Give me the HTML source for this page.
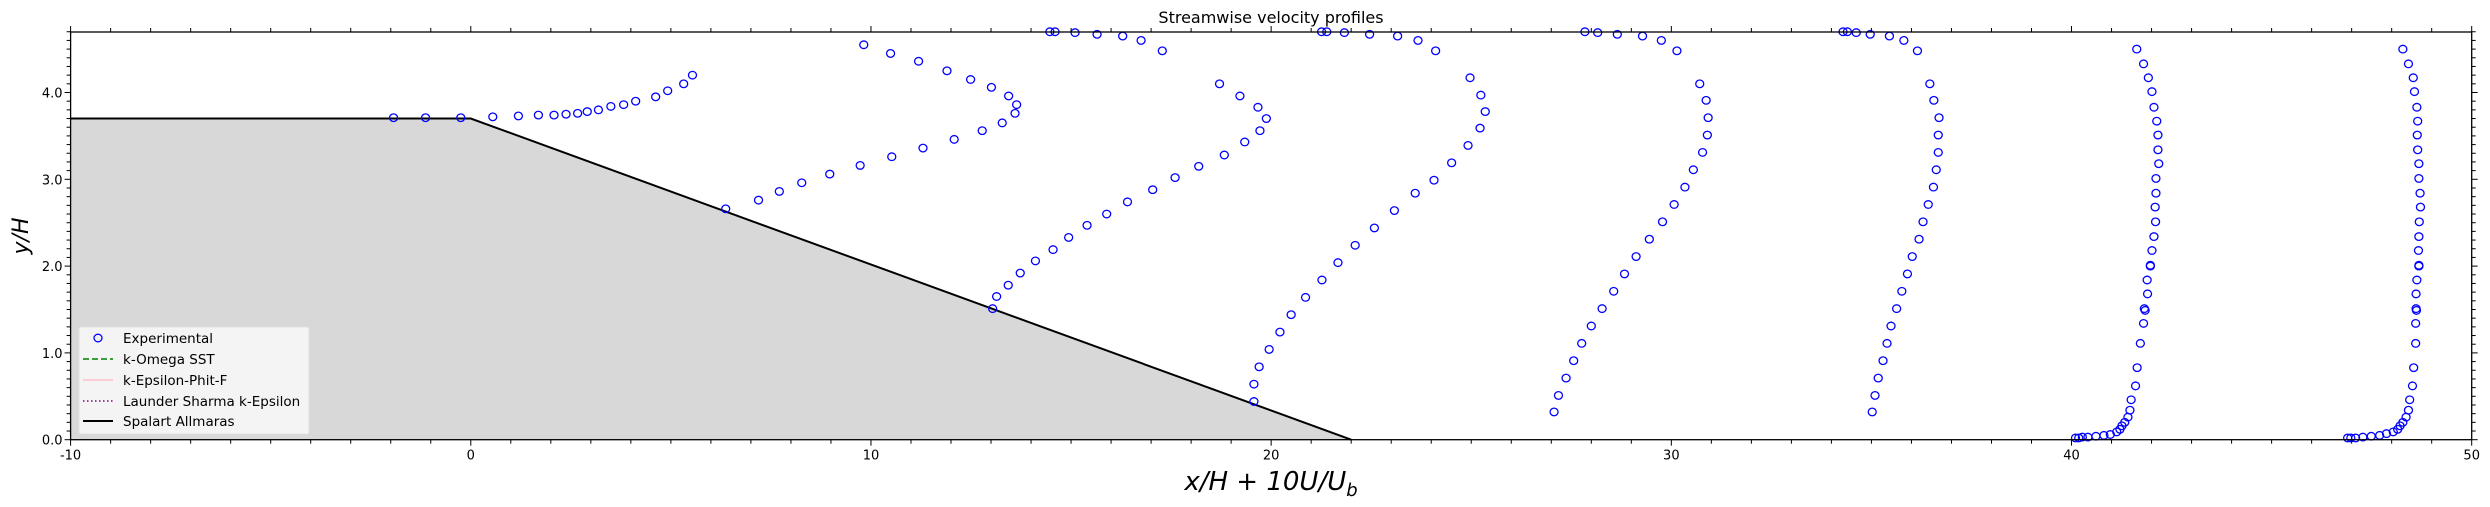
<!DOCTYPE html>
<html><head><meta charset="utf-8"><style>
html,body{margin:0;padding:0;background:#fff;}
svg{display:block;font-family:"DejaVu Sans","Liberation Sans",sans-serif;}
</style></head><body>
<svg id="chart" width="2490" height="507" xmlns="http://www.w3.org/2000/svg">
<text x="1271" y="23" text-anchor="middle" font-size="16">Streamwise velocity profiles</text>
<g id="plot"></g>
<text x="1271" y="490" text-anchor="middle" font-size="26" font-style="italic">x/H + 10U/U<tspan font-size="18" dy="6">b</tspan></text>
<text transform="translate(28,236) rotate(-90)" text-anchor="middle" font-size="22" font-style="italic">y/H</text>
</svg>
<script>
const xTicks = [-10,0,10,20,30,40,50];
const yTicks = [0,1,2,3,4];
const hillX = [-10,0,22];
const hillY = [3.7,3.7,0];
const expX = [
-1.93,-1.13,-0.25,0.55,1.19,1.69,2.08,2.38,2.67,2.91,3.19,3.50,3.82,4.12,4.62,4.92,5.32,5.54,
9.82,10.49,11.19,11.90,12.49,13.01,13.44,13.64,13.60,13.28,12.78,12.08,11.30,10.52,9.73,8.97,8.27,7.71,7.19,6.37,
14.47,14.60,15.10,15.65,16.29,16.75,17.28,
18.71,19.22,19.67,19.88,19.72,19.34,18.83,18.19,17.60,17.04,16.41,15.89,15.40,14.94,14.55,14.11,13.73,13.43,13.14,13.04,
21.26,21.39,21.83,22.46,23.16,23.67,24.11,
24.97,25.24,25.35,25.22,24.92,24.51,24.07,23.60,23.08,22.58,22.10,21.67,21.27,20.86,20.50,20.22,19.95,19.70,19.57,19.57,
27.84,28.16,28.65,29.28,29.75,30.14,
30.71,30.87,30.92,30.90,30.78,30.55,30.34,30.07,29.78,29.45,29.12,28.83,28.56,28.27,28.00,27.76,27.56,27.37,27.18,27.07,
34.29,34.40,34.62,34.97,35.45,35.81,36.15,
36.46,36.56,36.69,36.67,36.67,36.62,36.55,36.42,36.29,36.19,36.02,35.90,35.76,35.63,35.49,35.39,35.29,35.17,35.09,35.02,
41.63,41.80,41.92,42.01,42.06,42.13,42.16,42.16,42.18,42.11,42.11,42.09,42.10,42.06,42.01,41.97,41.97,41.89,41.90,41.82,41.84,41.80,41.72,41.64,41.60,41.49,41.46,41.41,41.33,41.26,41.21,41.13,40.97,40.81,40.61,40.41,40.27,40.18,40.10,
48.28,48.42,48.54,48.57,48.63,48.65,48.64,48.65,48.68,48.68,48.71,48.72,48.69,48.68,48.67,48.68,48.68,48.63,48.61,48.61,48.62,48.60,48.60,48.55,48.52,48.45,48.42,48.36,48.28,48.21,48.15,48.04,47.87,47.70,47.49,47.28,47.10,46.98,46.90
];
const expY = [
3.71,3.71,3.71,3.72,3.73,3.74,3.74,3.75,3.76,3.78,3.80,3.84,3.86,3.90,3.95,4.02,4.10,4.20,
4.55,4.45,4.36,4.25,4.15,4.06,3.96,3.86,3.76,3.65,3.56,3.46,3.36,3.26,3.16,3.06,2.96,2.86,2.76,2.66,
4.70,4.70,4.69,4.67,4.65,4.60,4.48,
4.10,3.96,3.83,3.70,3.56,3.43,3.28,3.15,3.02,2.88,2.74,2.60,2.47,2.33,2.19,2.06,1.92,1.78,1.65,1.51,
4.70,4.70,4.69,4.67,4.65,4.60,4.48,
4.17,3.97,3.78,3.59,3.39,3.19,2.99,2.84,2.64,2.44,2.24,2.04,1.84,1.64,1.44,1.24,1.04,0.84,0.64,0.44,
4.70,4.69,4.67,4.65,4.60,4.48,
4.10,3.91,3.71,3.51,3.31,3.11,2.91,2.71,2.51,2.31,2.11,1.91,1.71,1.51,1.31,1.11,0.91,0.71,0.51,0.32,
4.70,4.70,4.69,4.67,4.65,4.60,4.48,
4.10,3.91,3.71,3.51,3.31,3.11,2.91,2.71,2.51,2.31,2.11,1.91,1.71,1.51,1.31,1.11,0.91,0.71,0.51,0.32,
4.50,4.33,4.17,4.01,3.83,3.67,3.51,3.34,3.18,3.01,2.84,2.68,2.51,2.34,2.18,2.01,2.00,1.84,1.68,1.51,1.49,1.34,1.11,0.83,0.62,0.46,0.34,0.26,0.20,0.16,0.12,0.09,0.06,0.05,0.04,0.03,0.03,0.02,0.02,
4.50,4.33,4.17,4.01,3.83,3.67,3.51,3.34,3.18,3.01,2.84,2.68,2.51,2.34,2.18,2.01,2.00,1.84,1.68,1.51,1.49,1.34,1.11,0.83,0.62,0.46,0.34,0.26,0.20,0.16,0.12,0.09,0.07,0.05,0.04,0.03,0.02,0.02,0.02
];
const legendLabels = ["Experimental","k-Omega SST","k-Epsilon-Phit-F","Launder Sharma k-Epsilon","Spalart Allmaras"];

const NS="http://www.w3.org/2000/svg";
const L=70.6,R=2471.7,T=32,B=439.7,XMIN=-10,XMAX=50,YMIN=0,YMAX=4.697;
function sx(v){return L+(v-XMIN)/(XMAX-XMIN)*(R-L);}
function sy(v){return B-(v-YMIN)/(YMAX-YMIN)*(B-T);}
const g=document.getElementById('plot');
function mk(tag,attrs,parent){const e=document.createElementNS(NS,tag);for(const k in attrs)e.setAttribute(k,attrs[k]);(parent||g).appendChild(e);return e;}

// hill
let d='M'+sx(hillX[0])+','+sy(0);
for(let i=0;i<hillX.length;i++)d+=' L'+sx(hillX[i])+','+sy(hillY[i]);
d+=' Z';
const hf=mk('path',{d:d,fill:'#d8d8d8',stroke:'none'});


let d2='M'+sx(hillX[0])+','+sy(hillY[0]);
for(let i=1;i<hillX.length;i++)d2+=' L'+sx(hillX[i])+','+sy(hillY[i]);
const hl=mk('path',{d:d2,fill:'none',stroke:'#000','stroke-width':2});



// points
for(let i=0;i<expX.length;i++){
  const c=mk('ellipse',{cx:sx(expX[i]),cy:sy(expY[i]),rx:4,ry:3.8,fill:'none',stroke:'#0000ff','stroke-width':1.3});
  
  
}

// frame
const fr=mk('rect',{x:L,y:T,width:R-L,height:B-T,fill:'none',stroke:'#000','stroke-width':1.3});



// x ticks
for(let v=XMIN;v<=XMAX;v++){
  const major=(v%10===0);const len=major?6:4;const x=sx(v);
  mk('line',{x1:x,x2:x,y1:B,y2:B+len,stroke:'#000','stroke-width':1});
  mk('line',{x1:x,x2:x,y1:T,y2:T-len,stroke:'#000','stroke-width':1});
}
for(const v of xTicks){
  const t=mk('text',{x:sx(v),y:B+20,'text-anchor':'middle','font-size':13});
  t.textContent=String(v);
  
  
}
// y ticks
for(let k=0;k<=47;k++){
  const v=k/10;const major=(k%10===0);const len=major?6:4;const y=sy(v);
  mk('line',{x1:L,x2:L-len,y1:y,y2:y,stroke:'#000','stroke-width':1});
  mk('line',{x1:R,x2:R+len,y1:y,y2:y,stroke:'#000','stroke-width':1});
}
for(const v of yTicks){
  const t=mk('text',{x:L-8,y:sy(v)+5,'text-anchor':'end','font-size':13});
  t.textContent=v.toFixed(1);
  
  
}

// legend
const lg=mk('g',{});


mk('rect',{x:79,y:327,width:230,height:107,rx:2,fill:'#f5f5f5','fill-opacity':0.95,stroke:'#e0e0e0'},lg);
const ly=[338,359,380,401,421];
mk('ellipse',{cx:98,cy:ly[0],rx:4,ry:3.8,fill:'none',stroke:'#0000ff','stroke-width':1.3},lg);
mk('line',{x1:83,x2:113,y1:ly[1],y2:ly[1],stroke:'#008000','stroke-width':1.6,'stroke-dasharray':'6,3'},lg);
mk('line',{x1:83,x2:113,y1:ly[2],y2:ly[2],stroke:'#ffc0cb','stroke-width':1.6},lg);
mk('line',{x1:83,x2:113,y1:ly[3],y2:ly[3],stroke:'#800080','stroke-width':1.6,'stroke-dasharray':'1.5,2.5'},lg);
mk('line',{x1:83,x2:113,y1:ly[4],y2:ly[4],stroke:'#000','stroke-width':2},lg);
for(let i=0;i<legendLabels.length;i++){
  const t=mk('text',{x:123,y:ly[i]+5,'font-size':13.5},lg);
  t.textContent=legendLabels[i];
  
  
}
</script>
</body></html>
